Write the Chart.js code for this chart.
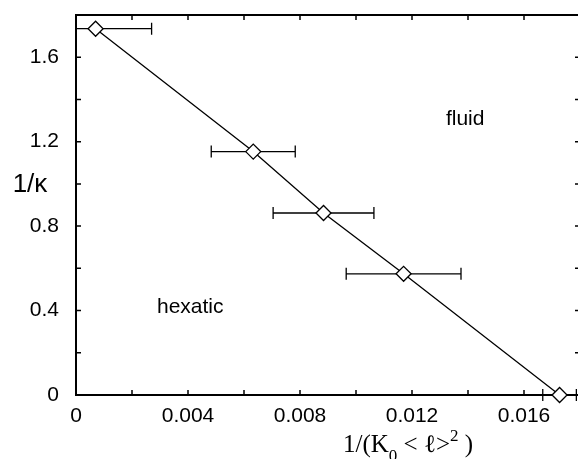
<!DOCTYPE html>
<html>
<head>
<meta charset="utf-8">
<script src="https://cdn.jsdelivr.net/npm/chart.js@4/dist/chart.umd.min.js"></script>
<style>
  html, body { margin: 0; padding: 0; background: #fff; overflow: hidden; }
  #wrap { width: 582px; height: 459px; }
</style>
</head>
<body>
<div id="wrap"><canvas id="chart" width="582" height="459"></canvas></div>
<script>
// data
const xVals = [0.0007, 0.00633, 0.00884, 0.0117, 0.01727];
const yVals = [1.735, 1.153, 0.862, 0.574, 0];
const xErr = [0.002, 0.0015, 0.0018, 0.00205, 0.0006];

const xTicks = [0, 0.004, 0.008, 0.012, 0.016];
const yTicks = [0, 0.4, 0.8, 1.2, 1.6];

const regionLabels = ['fluid', 'hexatic'];
const regionX = [0.0139, 0.00408];
const regionY = [1.305, 0.418];

const points = xVals.map((x, i) => ({ x: x, y: yVals[i] }));

// horizontal error bars
const errorBars = {
    id: 'errorBars',
    beforeDatasetsDraw(chart) {
        const { ctx, chartArea: a } = chart;
        const xs = chart.scales.x, ys = chart.scales.y;
        ctx.save();
        ctx.beginPath();
        ctx.rect(a.left, a.top, a.right - a.left, a.bottom - a.top + 10);
        ctx.clip();
        ctx.strokeStyle = '#000';
        ctx.lineWidth = 1.3;
        xVals.forEach((x, i) => {
            const x1 = xs.getPixelForValue(x - xErr[i]);
            const x2 = xs.getPixelForValue(x + xErr[i]);
            const y = ys.getPixelForValue(yVals[i]);
            ctx.beginPath();
            ctx.moveTo(x1, y); ctx.lineTo(x2, y);
            ctx.moveTo(x1, y - 6); ctx.lineTo(x1, y + 6);
            ctx.moveTo(x2, y - 6); ctx.lineTo(x2, y + 6);
            ctx.stroke();
        });
        ctx.restore();
    }
};

// frame, inward ticks and texts
const decor = {
    id: 'decor',
    afterDraw(chart) {
        const { ctx, chartArea: a } = chart;
        const xs = chart.scales.x, ys = chart.scales.y;
        ctx.save();
        ctx.strokeStyle = '#000';
        ctx.lineWidth = 2;
        ctx.beginPath();
        ctx.moveTo(a.left, a.top); ctx.lineTo(a.right, a.top);
        ctx.lineTo(a.right, a.bottom);
        ctx.stroke();

        ctx.lineWidth = 1.5;
        ctx.beginPath();
        for (let i = 1; i <= 9; i++) {
            const px = xs.getPixelForValue(i * 0.002);
            ctx.moveTo(px, a.bottom); ctx.lineTo(px, a.bottom - 5);
            ctx.moveTo(px, a.top); ctx.lineTo(px, a.top + 5);
        }
        for (let i = 1; i <= 9; i++) {
            const py = ys.getPixelForValue(i * 0.2);
            ctx.moveTo(a.left, py); ctx.lineTo(a.left + 5, py);
            ctx.moveTo(a.right, py); ctx.lineTo(a.right - 5, py);
        }
        ctx.stroke();

        ctx.fillStyle = '#000';
        ctx.font = '21px "Liberation Sans", Arial, sans-serif';
        ctx.textAlign = 'center';
        ctx.textBaseline = 'middle';
        regionLabels.forEach((t, i) => {
            ctx.fillText(t, xs.getPixelForValue(regionX[i]), ys.getPixelForValue(regionY[i]));
        });

        // y title
        ctx.font = '26px "Liberation Sans", Arial, sans-serif';
        ctx.textBaseline = 'alphabetic';
        ctx.fillText('1/κ', 30, 192);

        // x title with sub/superscript
        ctx.textAlign = 'left';
        const big = '25px "Liberation Serif", "Times New Roman", serif';
        const small = '17px "Liberation Serif", "Times New Roman", serif';
        let x = 343;
        const base = 452;
        const parts = [
            [big, '1/(K', 0], [small, '0', 9], [big, ' < ℓ>', 0], [small, '2', -11], [big, ' )', 0]
        ];
        parts.forEach(p => {
            ctx.font = p[0];
            ctx.fillText(p[1], x, base + p[2]);
            x += ctx.measureText(p[1]).width;
        });
        ctx.restore();
    }
};

new Chart(document.getElementById('chart'), {
    type: 'scatter',
    data: {
        datasets: [{
            data: points,
            showLine: true,
            borderColor: '#000',
            borderWidth: 1.3,
            pointStyle: 'rectRot',
            pointRadius: 7.5,
            pointBackgroundColor: '#fff',
            pointBorderColor: '#000',
            pointBorderWidth: 1.3,
            clip: false
        }]
    },
    options: {
        responsive: false,
        devicePixelRatio: 1,
        animation: false,
        layout: { autoPadding: false, padding: { top: 15, right: 2, left: 0, bottom: 0 } },
        plugins: { legend: { display: false }, tooltip: { enabled: false } },
        scales: {
            x: {
                type: 'linear',
                min: 0, max: 0.018,
                grid: { display: false },
                border: { display: true, color: '#000', width: 2 },
                afterFit(s) { s.height = 64; s.paddingLeft = 0; s.paddingRight = 0; },
                afterBuildTicks(s) { s.ticks = xTicks.map(v => ({ value: v })); },
                ticks: {
                    color: '#000',
                    padding: 1,
                    maxRotation: 0,
                    font: { family: '"Liberation Sans", Arial, sans-serif', size: 21 },
                    callback: v => v === 0 ? '0' : Number(v).toFixed(3)
                }
            },
            y: {
                type: 'linear',
                min: 0, max: 1.8,
                grid: { display: false },
                border: { display: true, color: '#000', width: 2 },
                afterFit(s) { s.width = 76; s.paddingTop = 0; s.paddingBottom = 0; },
                afterBuildTicks(s) { s.ticks = yTicks.map(v => ({ value: v })); },
                ticks: {
                    color: '#000',
                    padding: 9,
                    font: { family: '"Liberation Sans", Arial, sans-serif', size: 21 },
                    callback: v => v === 0 ? '0' : Number(v).toFixed(1)
                }
            }
        }
    },
    plugins: [errorBars, decor]
});
</script>
</body>
</html>
